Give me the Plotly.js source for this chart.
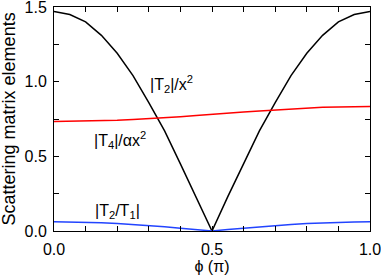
<!DOCTYPE html>
<html><head><meta charset="utf-8">
<script src="https://cdn.plot.ly/plotly-2.35.2.min.js"></script>
<style>html,body{margin:0;padding:0;background:#fff}#c{width:381px;height:275px}</style>
</head><body><div id="c"></div>
<script>
const phi = [0,0.05,0.1,0.15,0.2,0.25,0.3,0.35,0.4,0.45,0.5,0.55,0.6,0.65,0.7,0.75,0.8,0.85,0.9,0.95,1.0];
const t2x2 = [1.47,1.45,1.40,1.31,1.19,1.04,0.86,0.67,0.45,0.23,0.0,0.23,0.45,0.67,0.86,1.04,1.19,1.31,1.40,1.45,1.47];
const t4ax2 = [0.733,0.734,0.735,0.738,0.742,0.747,0.752,0.758,0.765,0.773,0.782,0.790,0.797,0.804,0.811,0.817,0.823,0.828,0.831,0.833,0.834];
const t2t1 = [0.062,0.061,0.059,0.055,0.050,0.044,0.036,0.028,0.019,0.010,0.0,0.010,0.019,0.028,0.036,0.044,0.050,0.055,0.059,0.061,0.062];
const xTickVals = [0,0.5,1], xTickText = ['0.0','0.5','1.0'];
const yTickVals = [0,0.5,1,1.5], yTickText = ['0.0','0.5','1.0','1.5'];
const labels = ['|T<sub>2</sub>|/x<sup>2</sup>','|T<sub>4</sub>|/αx<sup>2</sup>','|T<sub>2</sub>/T<sub>1</sub>|'];
const labelPos = [[0.297,0.985],[0.12,0.61],[0.123,0.133]];

const fam = 'Liberation Sans, Arial, Helvetica, sans-serif';
const font = {family:fam, size:16, color:'#000'};
const traces = [
  {x:phi, y:t2x2, mode:'lines', line:{color:'#000', width:1.5}},
  {x:phi, y:t4ax2, mode:'lines', line:{color:'#ff0000', width:1.5}},
  {x:phi, y:t2t1, mode:'lines', line:{color:'#2244ff', width:1.5}}
];
const ax = {showgrid:false, zeroline:false, showline:true, linecolor:'#000', linewidth:1, mirror:'ticks', ticks:'inside', ticklen:5, tickcolor:'#000', tickfont:font, ticklabeloverflow:'allow'};
const layout = {
  width:381, height:275, margin:{l:54, r:11, t:7, b:44},
  paper_bgcolor:'#fff', plot_bgcolor:'#fff', showlegend:false, font:font,
  xaxis:Object.assign({}, ax, {range:[0,1], tickvals:xTickVals, ticktext:xTickText, ticklabelstandoff:4,
    minor:{dtick:0.1, ticks:'inside', ticklen:5, tickcolor:'#000'},
    title:{text:'ϕ (π)', font:{family:fam, size:16, color:'#000'}, standoff:2}}),
  yaxis:Object.assign({}, ax, {range:[0,1.5], tickvals:yTickVals, ticktext:yTickText, ticklabelstandoff:3,
    minor:{dtick:0.25, ticks:'inside', ticklen:5, tickcolor:'#000'}}),
  annotations: labels.map((t,i)=>({x:labelPos[i][0], y:labelPos[i][1], xref:'x', yref:'y', text:t, showarrow:false, xanchor:'left', yanchor:'middle', font:font}))
    .concat([{x:-0.141, y:0.5, xref:'paper', yref:'paper', text:'Scattering matrix elements', textangle:-90, showarrow:false, xanchor:'center', yanchor:'middle', font:{family:fam, size:18, color:'#000'}}])
};
Plotly.newPlot('c', traces, layout, {displayModeBar:false, staticPlot:true});
</script></body></html>
